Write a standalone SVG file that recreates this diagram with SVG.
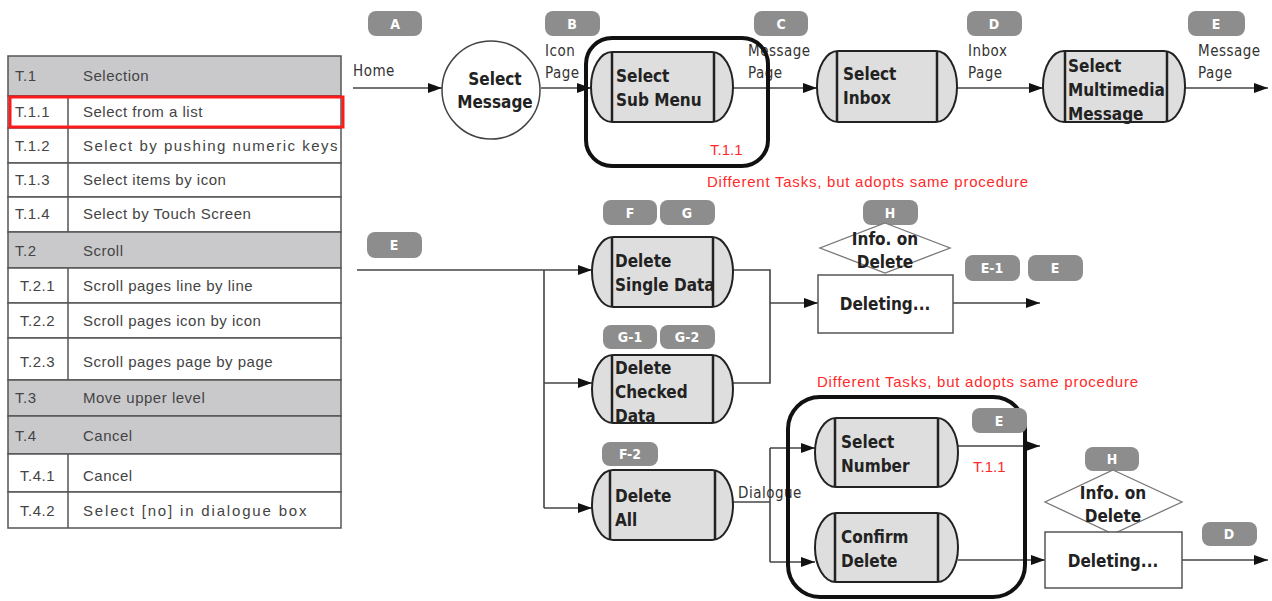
<svg xmlns="http://www.w3.org/2000/svg" width="1272" height="601" viewBox="0 0 1272 601">
<defs>
<marker id="arr" viewBox="0 0 14 10" refX="14" refY="5" markerWidth="14" markerHeight="10" markerUnits="userSpaceOnUse" orient="auto">
<path d="M0,0 L14,5 L0,10 z" fill="#111"/>
</marker>
<style>
.tbl{font-family:"Liberation Sans",Arial,sans-serif;font-size:15px;fill:#444;letter-spacing:0.5px}
.hdr{fill:#c9c9cc;stroke:#555;stroke-width:1.5}
.row{fill:#fff;stroke:#555;stroke-width:1.5}
.badge rect{fill:#8d8d8d}
.badge text{font-family:"DejaVu Sans Condensed","DejaVu Sans",sans-serif;font-weight:bold;font-size:14px;fill:#fff;text-anchor:middle}
.node{fill:#dedede;stroke:#222;stroke-width:2}
.div{stroke:#222;stroke-width:2.5}
.nt{font-family:"DejaVu Sans Condensed","DejaVu Sans",sans-serif;font-weight:bold;font-size:17px;fill:#222}
.lbl{font-family:"DejaVu Sans Condensed","DejaVu Sans",sans-serif;font-size:15px;fill:#333;letter-spacing:0.5px}
.red{font-family:"Liberation Sans",Arial,sans-serif;font-size:15px;fill:#ff2a2a}
.con{stroke:#444;stroke-width:1.6;fill:none}
.thick{fill:none;stroke:#111;stroke-width:4}
.box{fill:#fff;stroke:#555;stroke-width:1.5}
</style>
</defs>
<rect width="1272" height="601" fill="#fff"/>

<g id="table">
<rect class="hdr" x="8" y="56" width="333" height="40"/>
<rect class="row" x="8" y="96" width="333" height="32"/>
<rect class="row" x="8" y="128" width="333" height="35"/>
<rect class="row" x="8" y="163" width="333" height="34"/>
<rect class="row" x="8" y="197" width="333" height="35"/>
<rect class="hdr" x="8" y="232" width="333" height="36"/>
<rect class="row" x="8" y="268" width="333" height="35"/>
<rect class="row" x="8" y="303" width="333" height="35"/>
<rect class="row" x="8" y="338" width="333" height="42"/>
<rect class="hdr" x="8" y="380" width="333" height="36"/>
<rect class="hdr" x="8" y="416" width="333" height="38"/>
<rect class="row" x="8" y="454" width="333" height="38"/>
<rect class="row" x="8" y="492" width="333" height="36"/>
<line x1="68" y1="96" x2="68" y2="232" stroke="#555" stroke-width="1.5"/>
<line x1="68" y1="268" x2="68" y2="380" stroke="#555" stroke-width="1.5"/>
<line x1="68" y1="454" x2="68" y2="528" stroke="#555" stroke-width="1.5"/>
<rect x="10" y="97" width="333" height="30" fill="none" stroke="#ff1a1a" stroke-width="3"/>
<text class="tbl" x="15" y="81">T.1</text><text class="tbl" x="83" y="81">Selection</text>
<text class="tbl" x="15" y="117">T.1.1</text><text class="tbl" x="83" y="117">Select from a list</text>
<text class="tbl" x="15" y="151">T.1.2</text><text class="tbl" x="83" y="151" textLength="255">Select by pushing numeric keys</text>
<text class="tbl" x="15" y="185">T.1.3</text><text class="tbl" x="83" y="185">Select items by icon</text>
<text class="tbl" x="15" y="219">T.1.4</text><text class="tbl" x="83" y="219">Select by Touch Screen</text>
<text class="tbl" x="15" y="256">T.2</text><text class="tbl" x="83" y="256">Scroll</text>
<text class="tbl" x="20" y="291">T.2.1</text><text class="tbl" x="83" y="291">Scroll pages line by line</text>
<text class="tbl" x="20" y="326">T.2.2</text><text class="tbl" x="83" y="326">Scroll pages icon by icon</text>
<text class="tbl" x="20" y="367">T.2.3</text><text class="tbl" x="83" y="367">Scroll pages page by page</text>
<text class="tbl" x="15" y="403">T.3</text><text class="tbl" x="83" y="403">Move upper level</text>
<text class="tbl" x="15" y="441">T.4</text><text class="tbl" x="83" y="441">Cancel</text>
<text class="tbl" x="20" y="481">T.4.1</text><text class="tbl" x="83" y="481">Cancel</text>
<text class="tbl" x="20" y="516">T.4.2</text><text class="tbl" x="83" y="516" textLength="224">Select [no] in dialogue box</text>
</g>

<g id="connectors">
<line class="con" x1="353" y1="88" x2="442" y2="88" marker-end="url(#arr)"/>
<line class="con" x1="541" y1="88" x2="591" y2="88" marker-end="url(#arr)"/>
<line class="con" x1="733" y1="88" x2="817" y2="88" marker-end="url(#arr)"/>
<line class="con" x1="957" y1="88" x2="1043" y2="88" marker-end="url(#arr)"/>
<line class="con" x1="1185" y1="88" x2="1268" y2="88" marker-end="url(#arr)"/>
<line class="con" x1="357" y1="270" x2="592" y2="270" marker-end="url(#arr)"/>
<line class="con" x1="544" y1="270" x2="544" y2="508"/>
<line class="con" x1="544" y1="383" x2="592" y2="383" marker-end="url(#arr)"/>
<line class="con" x1="544" y1="508" x2="592" y2="508" marker-end="url(#arr)"/>
<polyline class="con" points="733,270 770,270 770,383 733,383"/>
<line class="con" x1="770" y1="303" x2="818" y2="303" marker-end="url(#arr)"/>
<line class="con" x1="953" y1="303" x2="1040" y2="303" marker-end="url(#arr)"/>
<line class="con" x1="733" y1="502" x2="770" y2="502"/>
<line class="con" x1="770" y1="448" x2="770" y2="562"/>
<line class="con" x1="770" y1="448" x2="815" y2="448" marker-end="url(#arr)"/>
<line class="con" x1="770" y1="562" x2="815" y2="562" marker-end="url(#arr)"/>
<line class="con" x1="958" y1="446" x2="1040" y2="446" marker-end="url(#arr)"/>
<line class="con" x1="958" y1="560" x2="1045" y2="560" marker-end="url(#arr)"/>
<line class="con" x1="1182" y1="560" x2="1268" y2="560" marker-end="url(#arr)"/>
</g>

<g id="labels">
<text class="lbl" x="353" y="76">Home</text>
<text class="lbl" x="545" y="56">Icon</text>
<text class="lbl" x="545" y="78">Page</text>
<text class="lbl" x="748" y="56">Message</text>
<text class="lbl" x="748" y="78">Page</text>
<text class="lbl" x="968" y="56">Inbox</text>
<text class="lbl" x="968" y="78">Page</text>
<text class="lbl" x="1198" y="56">Message</text>
<text class="lbl" x="1198" y="78">Page</text>
<text class="lbl" x="738" y="498">Dialogue</text>
<text class="red" x="707" y="187" textLength="321">Different Tasks, but adopts same procedure</text>
<text class="red" x="817" y="387" textLength="321">Different Tasks, but adopts same procedure</text>
</g>

<g id="group1">
<rect class="thick" x="586" y="38" width="182" height="128" rx="26"/>
<text class="red" x="710" y="155" font-size="14">T.1.1</text>
</g>
<g id="group2">
<rect class="thick" x="788" y="397" width="237" height="200" rx="32"/>
<text class="red" x="973" y="472" font-size="14">T.1.1</text>
</g>

<g id="badgeA" class="badge"><rect x="368" y="11" width="54" height="25" rx="8"/><text x="395" y="29">A</text></g>
<g id="badgeB" class="badge"><rect x="545" y="11" width="55" height="25" rx="8"/><text x="572" y="29">B</text></g>
<g id="badgeC" class="badge"><rect x="754" y="11" width="54" height="25" rx="8"/><text x="781" y="29">C</text></g>
<g id="badgeD" class="badge"><rect x="967" y="11" width="55" height="25" rx="8"/><text x="994" y="29">D</text></g>
<g id="badgeE" class="badge"><rect x="1188" y="11" width="57" height="25" rx="8"/><text x="1216" y="29">E</text></g>

<g id="selectMessage">
<circle cx="491" cy="90" r="49" fill="#fff" stroke="#444" stroke-width="1.5"/>
<text class="nt" x="495" y="85" text-anchor="middle">Select</text>
<text class="nt" x="495" y="108" text-anchor="middle">Message</text>
</g>

<g id="selectSubMenu">
<rect class="node" x="591" y="52" width="142" height="70" rx="21" ry="35"/>
<line class="div" x1="612" y1="52" x2="612" y2="122"/><line class="div" x1="714" y1="52" x2="714" y2="122"/>
<text class="nt" x="616" y="82">Select</text><text class="nt" x="616" y="106">Sub Menu</text>
</g>

<g id="selectInbox">
<rect class="node" x="817" y="51" width="140" height="71" rx="21" ry="35"/>
<line class="div" x1="837" y1="51" x2="837" y2="122"/><line class="div" x1="937" y1="51" x2="937" y2="122"/>
<text class="nt" x="843" y="80">Select</text><text class="nt" x="843" y="104">Inbox</text>
</g>

<g id="selectMultimedia">
<rect class="node" x="1043" y="51" width="142" height="71" rx="21" ry="35"/>
<line class="div" x1="1065" y1="51" x2="1065" y2="122"/><line class="div" x1="1167" y1="51" x2="1167" y2="122"/>
<text class="nt" x="1068" y="72" font-size="16">Select</text><text class="nt" x="1068" y="96" font-size="16">Multimedia</text><text class="nt" x="1068" y="120" font-size="16">Message</text>
</g>

<g id="badgeE2" class="badge"><rect x="367" y="232" width="55" height="26" rx="8"/><text x="394" y="250">E</text></g>

<g id="badgeF" class="badge"><rect x="603" y="200" width="54" height="25" rx="8"/><text x="630" y="218">F</text></g>
<g id="badgeG" class="badge"><rect x="660" y="200" width="55" height="25" rx="8"/><text x="687" y="218">G</text></g>
<g id="deleteSingle">
<rect class="node" x="592" y="237" width="141" height="70" rx="21" ry="35"/>
<line class="div" x1="612" y1="237" x2="612" y2="307"/><line class="div" x1="713" y1="237" x2="713" y2="307"/>
<text class="nt" x="615" y="267">Delete</text><text class="nt" x="615" y="291">Single Data</text>
</g>

<g id="badgeG1" class="badge"><rect x="603" y="325" width="54" height="24" rx="8"/><text x="630" y="342">G-1</text></g>
<g id="badgeG2" class="badge"><rect x="660" y="325" width="55" height="24" rx="8"/><text x="687" y="342">G-2</text></g>
<g id="deleteChecked">
<rect class="node" x="592" y="355" width="141" height="68" rx="21" ry="34"/>
<line class="div" x1="612" y1="355" x2="612" y2="423"/><line class="div" x1="713" y1="355" x2="713" y2="423"/>
<text class="nt" x="615" y="374">Delete</text><text class="nt" x="615" y="398">Checked</text><text class="nt" x="615" y="422">Data</text>
</g>

<g id="badgeH" class="badge"><rect x="863" y="200" width="55" height="25" rx="8"/><text x="890" y="218">H</text></g>
<g id="infoDelete1">
<polygon points="885,223 950,248 885,273 820,248" fill="#fff" stroke="#777" stroke-width="1.3"/>
<text class="nt" x="885" y="245" text-anchor="middle" font-size="16">Info. on</text>
<text class="nt" x="885" y="268" text-anchor="middle" font-size="16">Delete</text>
</g>
<g id="deleting1">
<rect class="box" x="818" y="275" width="135" height="58"/>
<text class="nt" x="885" y="310" text-anchor="middle" font-size="16">Deleting...</text>
</g>
<g id="badgeE1" class="badge"><rect x="965" y="255" width="55" height="26" rx="8"/><text x="992" y="273">E-1</text></g>
<g id="badgeE3" class="badge"><rect x="1028" y="255" width="55" height="26" rx="8"/><text x="1055" y="273">E</text></g>

<g id="badgeF2" class="badge"><rect x="602" y="442" width="56" height="24" rx="8"/><text x="630" y="459">F-2</text></g>
<g id="deleteAll">
<rect class="node" x="592" y="470" width="141" height="70" rx="21" ry="35"/>
<line class="div" x1="610" y1="470" x2="610" y2="540"/><line class="div" x1="715" y1="470" x2="715" y2="540"/>
<text class="nt" x="615" y="502">Delete</text><text class="nt" x="615" y="526">All</text>
</g>

<g id="selectNumber">
<rect class="node" x="815" y="418" width="143" height="69" rx="21" ry="34.5"/>
<line class="div" x1="835" y1="418" x2="835" y2="487"/><line class="div" x1="938" y1="418" x2="938" y2="487"/>
<text class="nt" x="841" y="448">Select</text><text class="nt" x="841" y="472">Number</text>
</g>
<g id="confirmDelete">
<rect class="node" x="815" y="513" width="143" height="69" rx="21" ry="34.5"/>
<line class="div" x1="835" y1="513" x2="835" y2="582"/><line class="div" x1="938" y1="513" x2="938" y2="582"/>
<text class="nt" x="841" y="543">Confirm</text><text class="nt" x="841" y="567">Delete</text>
</g>
<g id="badgeE4" class="badge"><rect x="972" y="408" width="55" height="25" rx="8"/><text x="999" y="426">E</text></g>

<g id="badgeH2" class="badge"><rect x="1085" y="447" width="54" height="24" rx="8"/><text x="1112" y="464">H</text></g>
<g id="infoDelete2">
<polygon points="1113,470 1182,502 1113,534 1045,502" fill="#fff" stroke="#777" stroke-width="1.3"/>
<text class="nt" x="1113" y="499" text-anchor="middle" font-size="16">Info. on</text>
<text class="nt" x="1113" y="522" text-anchor="middle" font-size="16">Delete</text>
</g>
<g id="deleting2">
<rect class="box" x="1045" y="532" width="137" height="56"/>
<text class="nt" x="1113" y="567" text-anchor="middle" font-size="16">Deleting...</text>
</g>
<g id="badgeD2" class="badge"><rect x="1202" y="522" width="55" height="24" rx="8"/><text x="1229" y="539">D</text></g>
</svg>
